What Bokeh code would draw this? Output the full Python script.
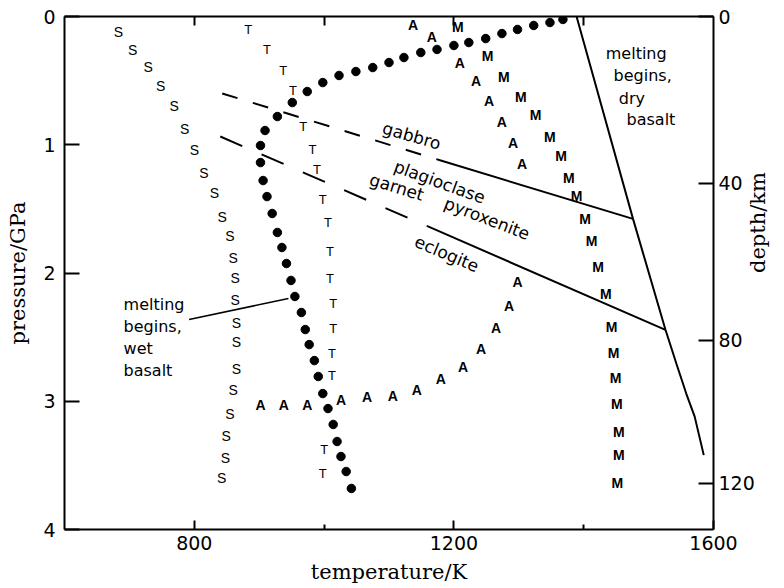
import math
from bokeh.plotting import figure
from bokeh.models import Range1d, LinearAxis, FixedTicker, ColumnDataSource
from bokeh.core.properties import value
from bokeh.embed import file_html
from bokeh.resources import INLINE

# ---------------- data (temperature / K, pressure / GPa) ----------------
# "S" curve
S_T = [683, 705, 729, 748, 769, 785, 800, 815, 831, 843, 855, 860, 863, 863, 865, 865, 865, 860, 855, 849, 848, 842]
S_P = [0.12, 0.26, 0.39, 0.54, 0.70, 0.88, 1.04, 1.22, 1.38, 1.56, 1.71, 1.88, 2.04, 2.21, 2.39, 2.54, 2.75, 2.91, 3.10, 3.27, 3.44, 3.60]

# "T" curve
T_T = [883, 912, 937, 952, 968, 982, 989, 998, 1006, 1009, 1009, 1014, 1014, 1012, 1012, 1000, 998]
T_P = [0.10, 0.26, 0.42, 0.58, 0.86, 1.04, 1.19, 1.43, 1.61, 1.83, 2.04, 2.24, 2.43, 2.63, 2.80, 3.38, 3.56]

# "A" curve
A_T = [1137, 1166, 1209, 1234, 1254, 1274, 1291, 1305, 1298, 1285, 1265, 1242, 1214, 1180, 1143, 1106, 1066, 1026, 974, 938, 902]
A_P = [0.07, 0.16, 0.36, 0.50, 0.66, 0.82, 0.99, 1.15, 2.07, 2.26, 2.43, 2.59, 2.73, 2.83, 2.91, 2.96, 2.97, 2.99, 3.03, 3.03, 3.03]

# "M" curve
M_T = [1206, 1252, 1277, 1303, 1326, 1348, 1365, 1377, 1389, 1402, 1412, 1422, 1434, 1443, 1446, 1449, 1451, 1454, 1454, 1452]
M_P = [0.08, 0.31, 0.47, 0.63, 0.77, 0.94, 1.09, 1.26, 1.40, 1.58, 1.75, 1.95, 2.16, 2.42, 2.62, 2.82, 3.02, 3.24, 3.42, 3.64]

# wet basalt solidus (dots)
WET_T = [1368, 1348, 1323, 1298, 1274, 1249, 1223, 1200, 1174, 1149, 1123, 1100, 1075, 1049, 1023, 998, 974, 951,
         928, 909, 902, 902, 906, 912, 920, 928, 935, 942, 949, 955, 965, 971, 977, 985, 991, 998, 1006, 1014,
         1020, 1026, 1034, 1042]
WET_P = [0.023, 0.047, 0.070, 0.101, 0.133, 0.172, 0.203, 0.226, 0.257, 0.281, 0.320, 0.359, 0.398, 0.429, 0.460,
         0.515, 0.585, 0.671, 0.780, 0.889, 1.006, 1.139, 1.279, 1.404, 1.536, 1.684, 1.801, 1.926, 2.058, 2.183,
         2.308, 2.441, 2.558, 2.683, 2.807, 2.940, 3.057, 3.181, 3.314, 3.431, 3.548, 3.680]

# dry basalt solidus
DRY_T = [1389, 1476, 1526, 1543, 1558, 1571, 1585]
DRY_P = [0.0, 1.578, 2.443, 2.71, 2.94, 3.12, 3.42]

# gabbro / plagioclase-pyroxenite boundary (dashed part, then solid part)
GAB_T = [843, 1178.5, 1476]
GAB_P = [0.60, 1.121, 1.578]

# garnet pyroxenite / eclogite boundary
ECL_T = [840, 1160, 1526]
ECL_P = [0.936, 1.637, 2.443]

# pointer for the wet-basalt label
PTR_T = [792, 945]
PTR_P = [2.363, 2.199]

# region / curve labels
LAB_TEXT = ["gabbro", "plagioclase", "garnet", "pyroxenite", "eclogite"]
LAB_T = [1135, 1178, 1112, 1251, 1189]
LAB_P = [0.93, 1.29, 1.33, 1.575, 1.85]
LAB_ANG = [-16, -20, -17, -21, -23]

WET_LAB = ["melting", "begins,", "wet", "basalt"]
WET_LAB_T = [691, 691, 691, 691]
WET_LAB_P = [2.246, 2.417, 2.589, 2.760]

DRY_LAB = ["melting", "begins,", "dry", "basalt"]
DRY_LAB_T = [1434, 1446, 1454, 1466]
DRY_LAB_P = [0.289, 0.460, 0.639, 0.803]

# axes
X_MAJOR = [800, 1200, 1600]
X_MINOR = [1000, 1400]
X_TOP = [800, 1000, 1200, 1400]
P_TICKS = [0, 1, 2, 3, 4]
DEPTH_KM = [0, 40, 80, 120]
DEPTH_AT_P = [0.0, 1.302, 2.526, 3.641]

# ---------------- figure ----------------
p = figure(width=784, height=588,
           x_range=Range1d(600, 1600), y_range=Range1d(4, 0),
           x_axis_location=None, y_axis_location=None,
           output_backend="svg", toolbar_location=None,
           min_border_left=64, min_border_top=16, min_border_right=70, min_border_bottom=59)
p.grid.visible = False
p.outline_line_color = None
p.background_fill_color = "white"
p.border_fill_color = "white"

TICK_FONT = "DejaVu Sans"
TITLE_FONT = "DejaVu Serif"


def style_axis(ax, size="18px"):
    ax.axis_line_color = "black"
    ax.axis_line_width = 2
    ax.major_tick_line_color = "black"
    ax.major_tick_line_width = 2
    ax.minor_tick_line_color = "black"
    ax.minor_tick_line_width = 2
    ax.major_tick_out = 0
    ax.minor_tick_out = 0
    ax.major_label_text_font = TICK_FONT
    ax.major_label_text_font_size = size
    ax.major_label_text_color = "black"
    ax.axis_label_text_font = TITLE_FONT
    ax.axis_label_text_font_style = "normal"
    ax.axis_label_text_color = "black"


bottom = LinearAxis(ticker=FixedTicker(ticks=X_MAJOR, minor_ticks=X_MINOR), axis_label="temperature/K")
style_axis(bottom, "19px")
bottom.major_tick_in = 9
bottom.minor_tick_in = 5
bottom.major_label_standoff = 6
bottom.axis_label_standoff = 7
bottom.axis_label_text_font_size = "21px"
p.add_layout(bottom, "below")

top = LinearAxis(ticker=FixedTicker(ticks=X_TOP, minor_ticks=[]))
style_axis(top)
top.major_label_text_color = None
top.major_tick_in = 9
top.minor_tick_in = 0
top.major_label_standoff = 0
p.add_layout(top, "above")

left = LinearAxis(ticker=FixedTicker(ticks=P_TICKS, minor_ticks=[]), axis_label="pressure/GPa")
style_axis(left, "19px")
left.major_tick_in = 15
left.minor_tick_in = 0
left.major_label_standoff = 9
left.axis_label_standoff = 10
left.axis_label_text_font_size = "21px"
p.add_layout(left, "left")

right = LinearAxis(ticker=FixedTicker(ticks=DEPTH_AT_P, minor_ticks=[]), axis_label="depth/km")
style_axis(right, "19px")
right.major_tick_in = 15
right.minor_tick_in = 0
right.major_label_standoff = 5
right.axis_label_standoff = 0
right.axis_label_text_font_size = "21px"
right.axis_label_orientation = math.pi / 2
right.major_label_overrides = {pv: str(km) for pv, km in zip(DEPTH_AT_P, DEPTH_KM)}
p.add_layout(right, "right")

# ---------------- lines ----------------
p.line(DRY_T, DRY_P, line_color="black", line_width=2)
p.line(GAB_T[:2], GAB_P[:2], line_color="black", line_width=2, line_dash="16 16")
p.line(GAB_T[1:], GAB_P[1:], line_color="black", line_width=2)
p.line(ECL_T[:2], ECL_P[:2], line_color="black", line_width=2, line_dash="24 21")
p.line(ECL_T[1:], ECL_P[1:], line_color="black", line_width=2)
p.line(PTR_T, PTR_P, line_color="black", line_width=1.5)

# ---------------- letter curves ----------------
def letters(xs, ys, ch, bold, size):
    src = ColumnDataSource(dict(x=xs, y=ys, t=[ch] * len(xs)))
    p.text(x="x", y="y", text="t", source=src, text_font=value("Liberation Sans"),
           text_font_size=size, text_font_style="bold" if bold else "normal",
           text_align="center", text_baseline="middle", text_color="black")


letters(S_T, S_P, "S", False, "14px")
letters(T_T, T_P, "T", False, "13px")
letters(A_T, A_P, "A", True, "14px")
letters(M_T, M_P, "M", True, "14px")

p.scatter(WET_T, WET_P, size=8.5, marker="circle", fill_color="black", line_color="black")

# ---------------- labels ----------------
lab_src = ColumnDataSource(dict(x=LAB_T, y=LAB_P, t=LAB_TEXT, a=LAB_ANG))
p.text(x="x", y="y", text="t", angle="a", angle_units="deg", source=lab_src,
       text_font=value("DejaVu Sans"), text_font_size="17px",
       text_align="center", text_baseline="middle", text_color="black")

wet_src = ColumnDataSource(dict(x=WET_LAB_T, y=WET_LAB_P, t=WET_LAB))
p.text(x="x", y="y", text="t", source=wet_src, text_font=value("DejaVu Sans"),
       text_font_size="16px", text_align="left", text_baseline="alphabetic", text_color="black")

dry_src = ColumnDataSource(dict(x=DRY_LAB_T, y=DRY_LAB_P, t=DRY_LAB))
p.text(x="x", y="y", text="t", source=dry_src, text_font=value("DejaVu Sans"),
       text_font_size="16px", text_align="left", text_baseline="alphabetic", text_color="black")

open("out.html", "w").write(file_html(p, INLINE))
